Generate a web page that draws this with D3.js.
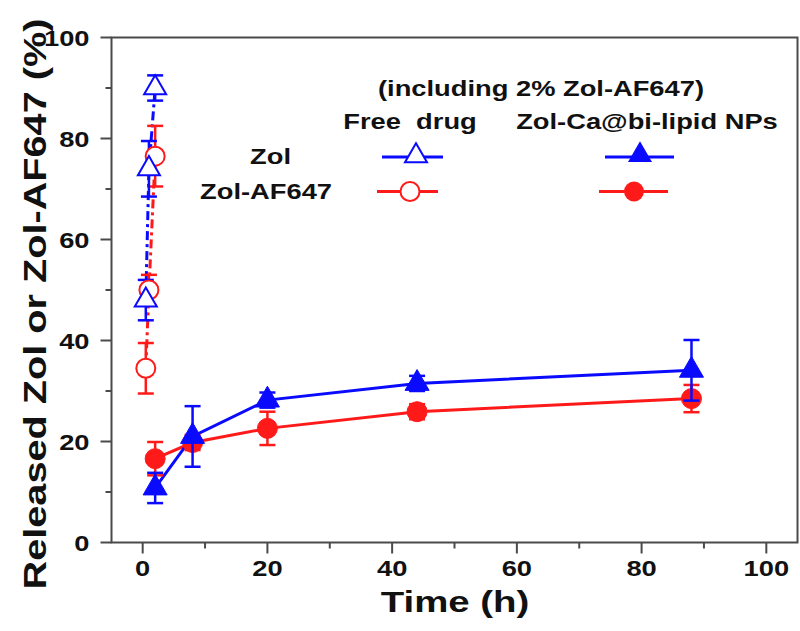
<!DOCTYPE html>
<html><head><meta charset="utf-8">
<script src="https://cdn.jsdelivr.net/npm/d3@7"></script>
<style>body{margin:0;background:#fff}svg{display:block}text{font-family:"Liberation Sans",Arial,sans-serif;font-weight:bold;fill:#111}</style>
</head><body><svg id="c" width="800" height="631"></svg>
<script>
// Data
const freeTimes = [0.5, 1, 2];
const freeZol = [48, 74, 90];
const freeZolErr = [4, 5.5, 2.5];
const freeAF = [34.5, 50, 76.5];
const freeAFErr = [5, 3, 6];
const npTimes = [2, 8, 20, 44, 88];
const npZol = [10.8, 21, 28.2, 31.5, 34.1];
const npZolErr = [3, 6, 1.5, 1.5, 6];
const npAF = [16.6, 19.8, 22.6, 25.9, 28.5];
const npAFErr = [3.3, 1.5, 3.3, 1.5, 2.7];
const xTicks = [0, 20, 40, 60, 80, 100];
const yTicks = [0, 20, 40, 60, 80, 100];

const svg = d3.select("#c");
const x = d3.scaleLinear().domain([-5, 105]).range([111.5, 797.5]);
const y = d3.scaleLinear().domain([0, 100]).range([542.5, 37.5]);
const axisColor = "#4a4a4a";
const BLUE = "#0a0aff", RED = "#ff1a1a";
const SX = 1.27;

function txt(parent, tx, ty, str, size, anchor, sx, rot) {
  return parent.append("text")
    .attr("transform", `translate(${tx},${ty})${rot ? " rotate(" + rot + ")" : ""} scale(${sx},1)`)
    .attr("text-anchor", anchor).attr("font-size", size).attr("xml:space", "preserve").text(str);
}

// frame
svg.append("rect").attr("x", x(-5)).attr("y", y(100)).attr("width", x(105)-x(-5)).attr("height", y(0)-y(100))
  .attr("fill", "none").attr("stroke", axisColor).attr("stroke-width", 2);

// x axis ticks (major with labels, minor without)
const gx = svg.append("g").attr("transform", `translate(0,${y(0)})`);
gx.selectAll("line").data(d3.range(0, 101, 10)).join("line")
  .attr("x1", d => x(d)).attr("x2", d => x(d)).attr("y1", 0).attr("y2", d => d % 20 === 0 ? 11 : 6)
  .attr("stroke", axisColor).attr("stroke-width", 2);
xTicks.forEach(d => txt(gx, x(d), 33, String(d), 21.5, "middle", SX));

const gy = svg.append("g").attr("transform", `translate(${x(-5)},0)`);
gy.selectAll("line").data(d3.range(0, 101, 10)).join("line")
  .attr("y1", d => y(d)).attr("y2", d => y(d)).attr("x1", 0).attr("x2", d => d % 20 === 0 ? -11 : -6)
  .attr("stroke", axisColor).attr("stroke-width", 2);
yTicks.forEach(d => txt(gy, -22, y(d) + 8, String(d), 21.5, "end", SX));

// titles
txt(svg, 455, 612, "Time (h)", 30, "middle", 1.28);
txt(svg, 46, 304, "Released Zol or Zol-AF647 (%)", 32, "middle", 1.24, -90);

const line = d3.line().x(d => x(d[0])).y(d => y(d[1]));
const zip = (t, v, e) => t.map((d, i) => [d, v[i], e[i]]);

function errorBars(data, color) {
  const g = svg.append("g").attr("stroke", color).attr("stroke-width", 2.5);
  data.forEach(d => {
    const cx = x(d[0]);
    g.append("line").attr("x1", cx).attr("x2", cx).attr("y1", y(d[1]+d[2])).attr("y2", y(d[1]-d[2]));
    [d[1]+d[2], d[1]-d[2]].forEach(v => g.append("line").attr("x1", cx-8).attr("x2", cx+8).attr("y1", y(v)).attr("y2", y(v)));
  });
}
const tri = d3.symbol().type(d3.symbolTriangle);
function triangles(data, color, filled, size) {
  svg.append("g").selectAll("path").data(data).join("path")
    .attr("d", tri.size(size)()).attr("transform", d => `translate(${x(d[0])},${y(d[1])})`)
    .attr("fill", filled ? color : "#fff").attr("stroke", color).attr("stroke-width", filled ? 1 : 2);
}
function circles(data, color, filled, r) {
  svg.append("g").selectAll("circle").data(data).join("circle")
    .attr("cx", d => x(d[0])).attr("cy", d => y(d[1])).attr("r", r)
    .attr("fill", filled ? color : "#fff").attr("stroke", color).attr("stroke-width", filled ? 1 : 2);
}

const fZ = zip(freeTimes, freeZol, freeZolErr), fA = zip(freeTimes, freeAF, freeAFErr);
const nZ = zip(npTimes, npZol, npZolErr), nA = zip(npTimes, npAF, npAFErr);

// free drug (dash-dot)
svg.append("path").datum(fA).attr("d", line).attr("fill", "none").attr("stroke", RED).attr("stroke-width", 3).attr("stroke-dasharray", "9,4,3,4");
svg.append("path").datum(fZ).attr("d", line).attr("fill", "none").attr("stroke", BLUE).attr("stroke-width", 3).attr("stroke-dasharray", "9,4,3,4");
errorBars(fA, RED); errorBars(fZ, BLUE);
circles(fA, RED, false, 9.5);
triangles(fZ, BLUE, false, 210);

// NPs solid
svg.append("path").datum(nA).attr("d", line).attr("fill", "none").attr("stroke", RED).attr("stroke-width", 3);
svg.append("path").datum(nZ).attr("d", line).attr("fill", "none").attr("stroke", BLUE).attr("stroke-width", 3);
circles(nA, RED, true, 10);
errorBars(nA, RED);
triangles(nZ, BLUE, true, 250);
errorBars(nZ, BLUE);

// legend
txt(svg, 541, 96, "(including 2% Zol-AF647)", 21.5, "middle", SX);
txt(svg, 410, 129, "Free  drug", 21.5, "middle", SX);
txt(svg, 647, 129, "Zol-Ca@bi-lipid NPs", 21.5, "middle", SX);
txt(svg, 291, 164, "Zol", 21.5, "end", SX);
txt(svg, 332, 199, "Zol-AF647", 21.5, "end", SX);

const lg = svg.append("g");
lg.append("line").attr("x1", 382).attr("x2", 443).attr("y1", 157).attr("y2", 157).attr("stroke", BLUE).attr("stroke-width", 3);
lg.append("path").attr("d", tri.size(210)()).attr("transform", "translate(416,156)").attr("fill", "#fff").attr("stroke", BLUE).attr("stroke-width", 2);
lg.append("line").attr("x1", 377).attr("x2", 438).attr("y1", 191.5).attr("y2", 191.5).attr("stroke", RED).attr("stroke-width", 3);
lg.append("circle").attr("cx", 410).attr("cy", 191.5).attr("r", 9.5).attr("fill", "#fff").attr("stroke", RED).attr("stroke-width", 2);
lg.append("line").attr("x1", 605).attr("x2", 674).attr("y1", 157).attr("y2", 157).attr("stroke", BLUE).attr("stroke-width", 3);
lg.append("path").attr("d", tri.size(250)()).attr("transform", "translate(640,155)").attr("fill", BLUE);
lg.append("line").attr("x1", 599).attr("x2", 668).attr("y1", 191.5).attr("y2", 191.5).attr("stroke", RED).attr("stroke-width", 3);
lg.append("circle").attr("cx", 634).attr("cy", 191.5).attr("r", 10).attr("fill", RED);
</script></body></html>
